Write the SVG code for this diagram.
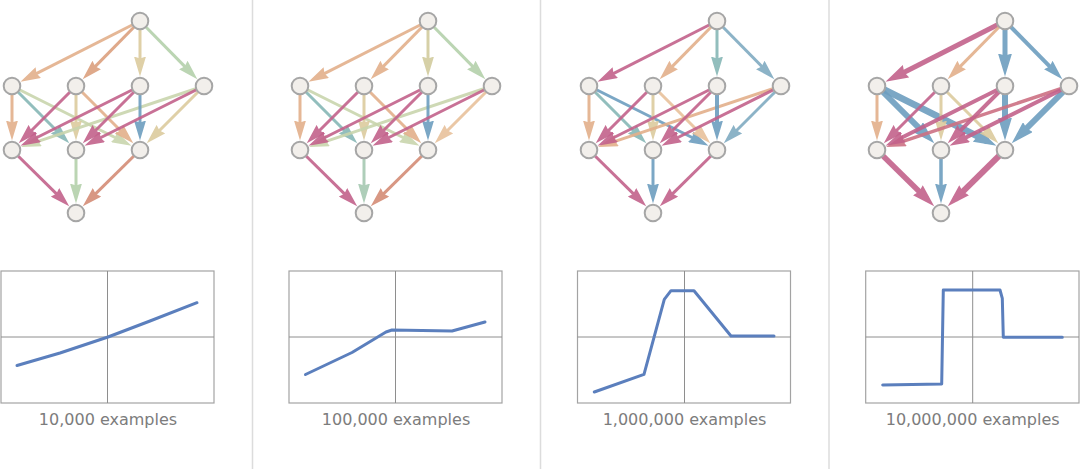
<svg xmlns="http://www.w3.org/2000/svg" width="1080" height="469" viewBox="0 0 1080 469">
<style>
.bg{fill:#ffffff}
.sep{stroke:#dcdcdc;stroke-width:1.5}
.n{fill:#f2efeb;stroke:#a6a6a6;stroke-width:2}
.e{fill:none;stroke-width:3;opacity:.9}
.or1{stroke:#e3b08b;marker-end:url(#a-or1)}
.or2{stroke:#dca07e;marker-end:url(#a-or2)}
.lor{stroke:#e8c29c;marker-end:url(#a-lor)}
.tan{stroke:#dccb9e;marker-end:url(#a-tan)}
.olv{stroke:#d2cc9e;marker-end:url(#a-olv)}
.grn{stroke:#b4d1ab;marker-end:url(#a-grn)}
.lgn{stroke:#c9d5ad;marker-end:url(#a-lgn)}
.gtl{stroke:#a6c9b2;marker-end:url(#a-gtl)}
.teal{stroke:#87b7b6;marker-end:url(#a-teal)}
.mag{stroke:#c3628b;marker-end:url(#a-mag)}
.smg{stroke:#cd7183;marker-end:url(#a-smg)}
.blu{stroke:#6d9ebf;marker-end:url(#a-blu)}
.lbl{stroke:#80abc2;marker-end:url(#a-lbl)}
.sal{stroke:#d48c76;marker-end:url(#a-sal)}
.bmag{marker-end:url(#b-mag)}
.bblu{marker-end:url(#b-blu)}
.box{fill:none;stroke:#a3a3a3;stroke-width:1.2}
.axis{stroke:#8e8e8e;stroke-width:1}
.curve{fill:none;stroke:#5b7fbd;stroke-width:3;stroke-linejoin:round;stroke-linecap:round}
.cap{font-family:"DejaVu Sans",Verdana,sans-serif;font-size:16px;fill:#7c7c7c;text-anchor:middle}
</style>
<defs>
<marker id="a-or1" viewBox="0 0 20 12" markerWidth="20" markerHeight="12" refX="10" refY="6" orient="auto" markerUnits="userSpaceOnUse"><path d="M0,0L20,6L0,12L2,6z" fill="#e3b08b"/></marker>
<marker id="a-or2" viewBox="0 0 20 12" markerWidth="20" markerHeight="12" refX="10" refY="6" orient="auto" markerUnits="userSpaceOnUse"><path d="M0,0L20,6L0,12L2,6z" fill="#dca07e"/></marker>
<marker id="a-lor" viewBox="0 0 20 12" markerWidth="20" markerHeight="12" refX="10" refY="6" orient="auto" markerUnits="userSpaceOnUse"><path d="M0,0L20,6L0,12L2,6z" fill="#e8c29c"/></marker>
<marker id="a-tan" viewBox="0 0 20 12" markerWidth="20" markerHeight="12" refX="10" refY="6" orient="auto" markerUnits="userSpaceOnUse"><path d="M0,0L20,6L0,12L2,6z" fill="#dccb9e"/></marker>
<marker id="a-olv" viewBox="0 0 20 12" markerWidth="20" markerHeight="12" refX="10" refY="6" orient="auto" markerUnits="userSpaceOnUse"><path d="M0,0L20,6L0,12L2,6z" fill="#d2cc9e"/></marker>
<marker id="a-grn" viewBox="0 0 20 12" markerWidth="20" markerHeight="12" refX="10" refY="6" orient="auto" markerUnits="userSpaceOnUse"><path d="M0,0L20,6L0,12L2,6z" fill="#b4d1ab"/></marker>
<marker id="a-lgn" viewBox="0 0 20 12" markerWidth="20" markerHeight="12" refX="10" refY="6" orient="auto" markerUnits="userSpaceOnUse"><path d="M0,0L20,6L0,12L2,6z" fill="#c9d5ad"/></marker>
<marker id="a-gtl" viewBox="0 0 20 12" markerWidth="20" markerHeight="12" refX="10" refY="6" orient="auto" markerUnits="userSpaceOnUse"><path d="M0,0L20,6L0,12L2,6z" fill="#a6c9b2"/></marker>
<marker id="a-teal" viewBox="0 0 20 12" markerWidth="20" markerHeight="12" refX="10" refY="6" orient="auto" markerUnits="userSpaceOnUse"><path d="M0,0L20,6L0,12L2,6z" fill="#87b7b6"/></marker>
<marker id="a-mag" viewBox="0 0 20 12" markerWidth="20" markerHeight="12" refX="10" refY="6" orient="auto" markerUnits="userSpaceOnUse"><path d="M0,0L20,6L0,12L2,6z" fill="#c3628b"/></marker>
<marker id="a-smg" viewBox="0 0 20 12" markerWidth="20" markerHeight="12" refX="10" refY="6" orient="auto" markerUnits="userSpaceOnUse"><path d="M0,0L20,6L0,12L2,6z" fill="#cd7183"/></marker>
<marker id="a-blu" viewBox="0 0 20 12" markerWidth="20" markerHeight="12" refX="10" refY="6" orient="auto" markerUnits="userSpaceOnUse"><path d="M0,0L20,6L0,12L2,6z" fill="#6d9ebf"/></marker>
<marker id="a-lbl" viewBox="0 0 20 12" markerWidth="20" markerHeight="12" refX="10" refY="6" orient="auto" markerUnits="userSpaceOnUse"><path d="M0,0L20,6L0,12L2,6z" fill="#80abc2"/></marker>
<marker id="a-sal" viewBox="0 0 20 12" markerWidth="20" markerHeight="12" refX="10" refY="6" orient="auto" markerUnits="userSpaceOnUse"><path d="M0,0L20,6L0,12L2,6z" fill="#d48c76"/></marker>
<marker id="b-mag" viewBox="0 0 23 14" markerWidth="23" markerHeight="14" refX="13" refY="7" orient="auto" markerUnits="userSpaceOnUse"><path d="M0,0L23,7L0,14L2,7z" fill="#c3628b"/></marker>
<marker id="b-blu" viewBox="0 0 23 14" markerWidth="23" markerHeight="14" refX="13" refY="7" orient="auto" markerUnits="userSpaceOnUse"><path d="M0,0L23,7L0,14L2,7z" fill="#6d9ebf"/></marker>
</defs>
<rect class="bg" x="0" y="0" width="1080" height="469"/>
<g id="separators">
<line class="sep" x1="252.5" y1="0" x2="252.5" y2="469"/>
<line class="sep" x1="540.5" y1="0" x2="540.5" y2="469"/>
<line class="sep" x1="829" y1="0" x2="829" y2="469"/>
</g>

<!-- Panel 1 -->
<g id="panel1">
<g id="p1-edges">
<line class="e or1" x1="140" y1="21" x2="29.39" y2="77.17"/>
<line class="e or2" x1="140" y1="21" x2="89.68" y2="72.10"/>
<line class="e tan" x1="140" y1="21" x2="140" y2="66.5"/>
<line class="e grn" x1="140" y1="21" x2="190.32" y2="72.10"/>
<line class="e or1" x1="12" y1="86" x2="12" y2="130.5"/>
<line class="e teal" x1="12" y1="86" x2="62.21" y2="136.21"/>
<line class="e lgn" x1="12" y1="86" x2="122.56" y2="141.28"/>
<line class="e tan" x1="76" y1="86" x2="76" y2="130.5"/>
<line class="e or1" x1="76" y1="86" x2="126.21" y2="136.21"/>
<line class="e lgn" x1="204" y1="86" x2="30.50" y2="143.83"/>
<line class="e tan" x1="204" y1="86" x2="153.79" y2="136.21"/>
<line class="e blu" x1="140" y1="86" x2="140" y2="130.5"/>
<line class="e mag" x1="76" y1="86" x2="25.79" y2="136.21"/>
<line class="e mag" x1="140" y1="86" x2="29.44" y2="141.28"/>
<line class="e mag" x1="140" y1="86" x2="89.79" y2="136.21"/>
<line class="e mag" x1="204" y1="86" x2="93.44" y2="141.28"/>
<line class="e mag" x1="12" y1="150" x2="62.10" y2="199.32"/>
<line class="e grn" x1="76" y1="150" x2="76" y2="193.5"/>
<line class="e sal" x1="140" y1="150" x2="89.90" y2="199.32"/>
</g>
<g id="p1-T"><circle class="n" cx="140" cy="21" r="8.3"/></g>
<g id="p1-A"><circle class="n" cx="12" cy="86" r="8.3"/></g>
<g id="p1-B"><circle class="n" cx="76" cy="86" r="8.3"/></g>
<g id="p1-C"><circle class="n" cx="140" cy="86" r="8.3"/></g>
<g id="p1-D"><circle class="n" cx="204" cy="86" r="8.3"/></g>
<g id="p1-E"><circle class="n" cx="12" cy="150" r="8.3"/></g>
<g id="p1-F"><circle class="n" cx="76" cy="150" r="8.3"/></g>
<g id="p1-G"><circle class="n" cx="140" cy="150" r="8.3"/></g>
<g id="p1-O"><circle class="n" cx="76" cy="213" r="8.3"/></g>
<g id="p1-plot">
<rect class="box" x="1" y="271" width="213" height="132"/>
<line class="axis" x1="107.5" y1="271" x2="107.5" y2="403"/>
<line class="axis" x1="1" y1="337" x2="214" y2="337"/>
<polyline class="curve" points="17,365.5 60,353 108,337 150,321 197,302.7"/>
<text class="cap" x="108" y="425">10,000 examples</text>
</g>
</g>

<!-- Panel 2 -->
<g id="panel2" transform="translate(288,0)">
<g id="p2-edges">
<line class="e or1" x1="140" y1="21" x2="29.39" y2="77.17"/>
<line class="e or1" x1="140" y1="21" x2="89.68" y2="72.10"/>
<line class="e olv" x1="140" y1="21" x2="140" y2="66.5"/>
<line class="e grn" x1="140" y1="21" x2="190.32" y2="72.10"/>
<line class="e or1" x1="12" y1="86" x2="12" y2="130.5"/>
<line class="e teal" x1="12" y1="86" x2="62.21" y2="136.21"/>
<line class="e lgn" x1="12" y1="86" x2="122.56" y2="141.28"/>
<line class="e tan" x1="76" y1="86" x2="76" y2="130.5"/>
<line class="e or1" x1="76" y1="86" x2="126.21" y2="136.21"/>
<line class="e lgn" x1="204" y1="86" x2="30.50" y2="143.83"/>
<line class="e lor" x1="204" y1="86" x2="153.79" y2="136.21"/>
<line class="e blu" x1="140" y1="86" x2="140" y2="130.5"/>
<line class="e mag" x1="76" y1="86" x2="25.79" y2="136.21"/>
<line class="e mag" x1="140" y1="86" x2="29.44" y2="141.28"/>
<line class="e mag" x1="140" y1="86" x2="89.79" y2="136.21"/>
<line class="e mag" x1="204" y1="86" x2="93.44" y2="141.28"/>
<line class="e mag" x1="12" y1="150" x2="62.10" y2="199.32"/>
<line class="e gtl" x1="76" y1="150" x2="76" y2="193.5"/>
<line class="e sal" x1="140" y1="150" x2="89.90" y2="199.32"/>
</g>
<g id="p2-T"><circle class="n" cx="140" cy="21" r="8.3"/></g>
<g id="p2-A"><circle class="n" cx="12" cy="86" r="8.3"/></g>
<g id="p2-B"><circle class="n" cx="76" cy="86" r="8.3"/></g>
<g id="p2-C"><circle class="n" cx="140" cy="86" r="8.3"/></g>
<g id="p2-D"><circle class="n" cx="204" cy="86" r="8.3"/></g>
<g id="p2-E"><circle class="n" cx="12" cy="150" r="8.3"/></g>
<g id="p2-F"><circle class="n" cx="76" cy="150" r="8.3"/></g>
<g id="p2-G"><circle class="n" cx="140" cy="150" r="8.3"/></g>
<g id="p2-O"><circle class="n" cx="76" cy="213" r="8.3"/></g>
<g id="p2-plot">
<rect class="box" x="1" y="271" width="213" height="132"/>
<line class="axis" x1="107.5" y1="271" x2="107.5" y2="403"/>
<line class="axis" x1="1" y1="337" x2="214" y2="337"/>
<polyline class="curve" points="17.5,374.5 64,352.5 98,332 104,330 164,331 197,322"/>
<text class="cap" x="108" y="425">100,000 examples</text>
</g>
</g>

<!-- Panel 3 -->
<g id="panel3" transform="translate(577,0)">
<g id="p3-edges">
<line class="e mag" x1="140" y1="21" x2="29.39" y2="77.17"/>
<line class="e or1" x1="140" y1="21" x2="89.68" y2="72.10"/>
<line class="e teal" x1="140" y1="21" x2="140" y2="66.5"/>
<line class="e lbl" x1="140" y1="21" x2="190.32" y2="72.10"/>
<line class="e or1" x1="12" y1="86" x2="12" y2="130.5"/>
<line class="e teal" x1="12" y1="86" x2="62.21" y2="136.21"/>
<line class="e blu" x1="12" y1="86" x2="122.56" y2="141.28"/>
<line class="e tan" x1="76" y1="86" x2="76" y2="130.5"/>
<line class="e lor" x1="76" y1="86" x2="126.21" y2="136.21"/>
<line class="e or1" x1="204" y1="86" x2="30.50" y2="143.83"/>
<line class="e lbl" x1="204" y1="86" x2="153.79" y2="136.21"/>
<line class="e blu" style="stroke-width:4" x1="140" y1="86" x2="140" y2="130.5"/>
<line class="e mag" x1="76" y1="86" x2="25.79" y2="136.21"/>
<line class="e mag" x1="140" y1="86" x2="29.44" y2="141.28"/>
<line class="e mag" x1="140" y1="86" x2="89.79" y2="136.21"/>
<line class="e mag" x1="204" y1="86" x2="93.44" y2="141.28"/>
<line class="e mag" x1="12" y1="150" x2="62.10" y2="199.32"/>
<line class="e blu" x1="76" y1="150" x2="76" y2="193.5"/>
<line class="e mag" x1="140" y1="150" x2="89.90" y2="199.32"/>
</g>
<g id="p3-T"><circle class="n" cx="140" cy="21" r="8.3"/></g>
<g id="p3-A"><circle class="n" cx="12" cy="86" r="8.3"/></g>
<g id="p3-B"><circle class="n" cx="76" cy="86" r="8.3"/></g>
<g id="p3-C"><circle class="n" cx="140" cy="86" r="8.3"/></g>
<g id="p3-D"><circle class="n" cx="204" cy="86" r="8.3"/></g>
<g id="p3-E"><circle class="n" cx="12" cy="150" r="8.3"/></g>
<g id="p3-F"><circle class="n" cx="76" cy="150" r="8.3"/></g>
<g id="p3-G"><circle class="n" cx="140" cy="150" r="8.3"/></g>
<g id="p3-O"><circle class="n" cx="76" cy="213" r="8.3"/></g>
<g id="p3-plot">
<rect class="box" x="0.5" y="271" width="213" height="132"/>
<line class="axis" x1="107.5" y1="271" x2="107.5" y2="403"/>
<line class="axis" x1="0.5" y1="337" x2="213.5" y2="337"/>
<polyline class="curve" points="17.3,392 67,374.3 87.3,299.3 94,290.7 117,290.7 154,336 197,336"/>
<text class="cap" x="107.5" y="425">1,000,000 examples</text>
</g>
</g>

<!-- Panel 4 -->
<g id="panel4" transform="translate(865,0)">
<g id="p4-edges">
<line class="e mag bmag" style="stroke-width:5" x1="140" y1="21" x2="29.39" y2="77.17"/>
<line class="e or1" x1="140" y1="21" x2="89.68" y2="72.10"/>
<line class="e blu bblu" style="stroke-width:5" x1="140" y1="21" x2="140" y2="66.5"/>
<line class="e blu" style="stroke-width:4" x1="140" y1="21" x2="190.32" y2="72.10"/>
<line class="e or1" x1="12" y1="86" x2="12" y2="130.5"/>
<line class="e blu bblu" style="stroke-width:6" x1="12" y1="86" x2="62.21" y2="136.21"/>
<line class="e blu bblu" style="stroke-width:6.5" x1="12" y1="86" x2="122.56" y2="141.28"/>
<line class="e tan" x1="76" y1="86" x2="76" y2="130.5"/>
<line class="e tan" x1="76" y1="86" x2="126.21" y2="136.21"/>
<line class="e blu bblu" style="stroke-width:6" x1="140" y1="86" x2="140" y2="130.5"/>
<line class="e blu bblu" style="stroke-width:6" x1="204" y1="86" x2="153.79" y2="136.21"/>
<line class="e smg" style="stroke-width:3.5" x1="204" y1="86" x2="30.50" y2="143.83"/>
<line class="e mag" x1="76" y1="86" x2="25.79" y2="136.21"/>
<line class="e mag" style="stroke-width:4" x1="140" y1="86" x2="29.44" y2="141.28"/>
<line class="e mag" style="stroke-width:4" x1="140" y1="86" x2="89.79" y2="136.21"/>
<line class="e mag" style="stroke-width:4" x1="204" y1="86" x2="93.44" y2="141.28"/>
<line class="e mag bmag" style="stroke-width:5.5" x1="12" y1="150" x2="62.10" y2="199.32"/>
<line class="e blu" style="stroke-width:3.5" x1="76" y1="150" x2="76" y2="193.5"/>
<line class="e mag bmag" style="stroke-width:6" x1="140" y1="150" x2="89.90" y2="199.32"/>
</g>
<g id="p4-T"><circle class="n" cx="140" cy="21" r="8.3"/></g>
<g id="p4-A"><circle class="n" cx="12" cy="86" r="8.3"/></g>
<g id="p4-B"><circle class="n" cx="76" cy="86" r="8.3"/></g>
<g id="p4-C"><circle class="n" cx="140" cy="86" r="8.3"/></g>
<g id="p4-D"><circle class="n" cx="204" cy="86" r="8.3"/></g>
<g id="p4-E"><circle class="n" cx="12" cy="150" r="8.3"/></g>
<g id="p4-F"><circle class="n" cx="76" cy="150" r="8.3"/></g>
<g id="p4-G"><circle class="n" cx="140" cy="150" r="8.3"/></g>
<g id="p4-O"><circle class="n" cx="76" cy="213" r="8.3"/></g>
<g id="p4-plot">
<rect class="box" x="0.7" y="271" width="213.3" height="132"/>
<line class="axis" x1="107.7" y1="271" x2="107.7" y2="403"/>
<line class="axis" x1="0.7" y1="337" x2="214" y2="337"/>
<polyline class="curve" points="17.7,385 76.7,384 78.3,290 135,290 137.3,298.3 138.3,337.3 197.3,337.3"/>
<text class="cap" x="107.7" y="425">10,000,000 examples</text>
</g>
</g>
</svg>
